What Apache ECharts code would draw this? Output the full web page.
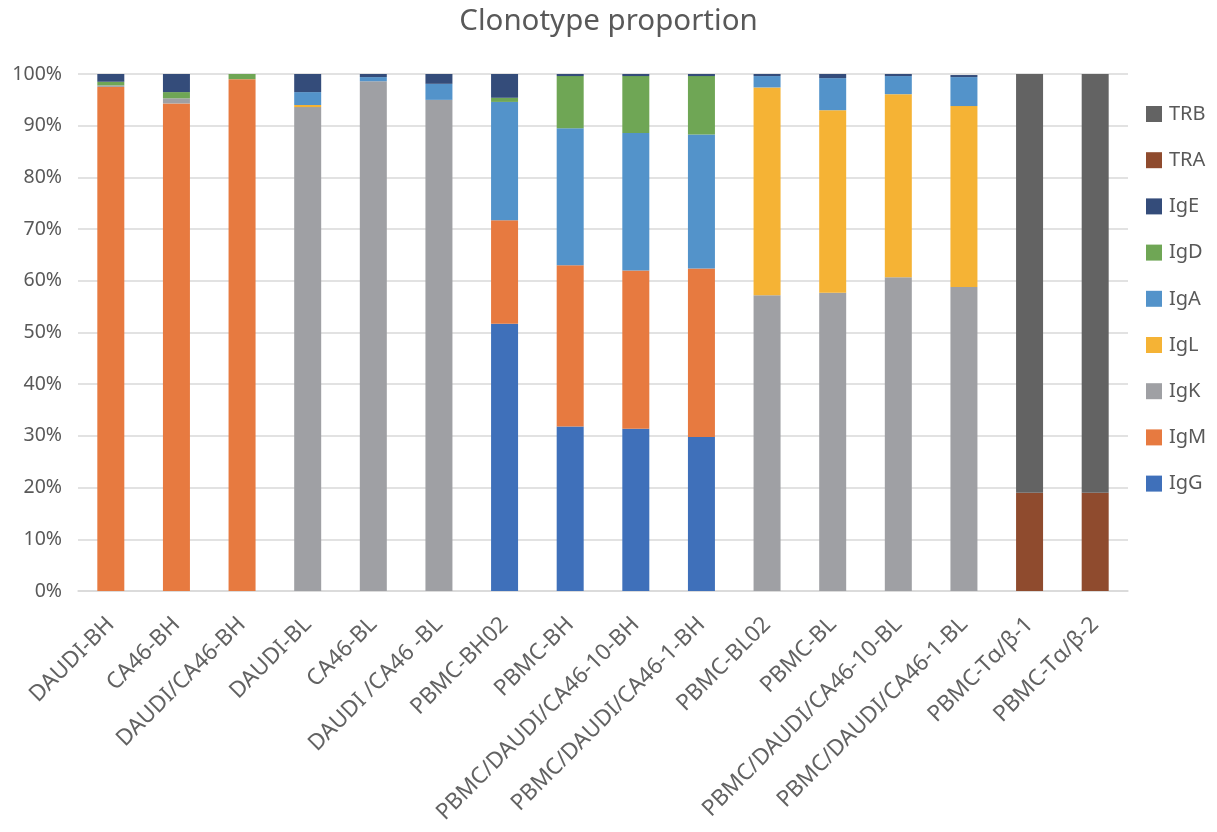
<!DOCTYPE html>
<html>
<head>
<meta charset="utf-8">
<script src="https://cdn.jsdelivr.net/npm/echarts@6/dist/echarts.min.js"></script>
<style>html,body{margin:0;padding:0;background:#fff;}#c{width:1217px;height:832px;}</style>
</head>
<body>
<div id="c"></div>
<script>
var categories = ["DAUDI-BH","CA46-BH","DAUDI/CA46-BH","DAUDI-BL","CA46-BL","DAUDI /CA46 -BL","PBMC-BH02","PBMC-BH","PBMC/DAUDI/CA46-10-BH","PBMC/DAUDI/CA46-1-BH","PBMC-BL02","PBMC-BL","PBMC/DAUDI/CA46-10-BL","PBMC/DAUDI/CA46-1-BL","PBMC-Tα/β-1","PBMC-Tα/β-2"];
var IgG = [0,0,0,0,0,0,51.7,31.8,31.4,29.8,0,0,0,0,0,0];
var IgM = [97.5,94.3,99.0,0,0,0,20.0,31.2,30.6,32.6,0,0,0,0,0,0];
var IgK = [0.3,1.0,0,93.6,98.6,95.0,0,0,0,0,57.2,57.7,60.7,58.8,0,0];
var IgL = [0,0,0,0.4,0,0,0,0,0,0,40.2,35.3,35.4,35.0,0,0];
var IgA = [0,0,0,2.5,0.8,3.1,22.9,26.5,26.6,25.9,2.2,6.2,3.5,5.6,0,0];
var IgD = [0.7,1.2,1.0,0,0,0,0.8,10.1,11.0,11.3,0,0,0,0,0,0];
var IgE = [1.5,3.5,0,3.5,0.6,1.9,4.6,0.4,0.4,0.4,0.4,0.8,0.5,0.4,0,0];
var TRA = [0,0,0,0,0,0,0,0,0,0,0,0,0,0,19.0,19.0];
var TRB = [0,0,0,0,0,0,0,0,0,0,0,0,0,0,81.0,81.0];
var yTicks = [0,10,20,30,40,50,60,70,80,90,100];

var seriesDefs = [
  ["IgG", IgG, "#3F70BA"],
  ["IgM", IgM, "#E77A40"],
  ["IgK", IgK, "#9FA0A4"],
  ["IgL", IgL, "#F5B335"],
  ["IgA", IgA, "#5393CA"],
  ["IgD", IgD, "#6FA655"],
  ["IgE", IgE, "#344C7A"],
  ["TRA", TRA, "#8F4B2E"],
  ["TRB", TRB, "#636363"]
];
var font = "'Noto Sans', 'Open Sans', sans-serif";
var series = seriesDefs.map(function(d){
  return {
    name: d[0], type: 'bar', stack: 'total', barWidth: 27,
    data: d[1].map(function(v){ return v === 0 ? null : v; }),
    itemStyle: {color: d[2]}
  };
});
var chart = echarts.init(document.getElementById('c'));
chart.setOption({
  animation: false,
  title: {
    text: 'Clonotype proportion', left: 'center', top: 2,
    textStyle: {fontFamily: font, fontSize: 29.5, fontWeight: 'normal', color: '#595959'}
  },
  legend: {
    orient: 'vertical', left: 1141, top: 99, itemGap: 26.2,
    itemWidth: 16, itemHeight: 16, icon: 'rect',
    data: seriesDefs.map(function(d){return d[0];}).reverse(),
    textStyle: {fontFamily: font, fontSize: 20, color: '#595959', padding: [0,0,0,2]}
  },
  grid: {left: 78, right: 89, top: 74, bottom: 241, containLabel: false},
  xAxis: {
    type: 'category', data: categories,
    axisLine: {lineStyle: {color: '#d9d9d9', width: 1.5}},
    axisTick: {show: false},
    axisLabel: {interval: 0, rotate: 45, fontFamily: font, fontSize: 22.5, color: '#626262', margin: 30}
  },
  yAxis: {
    type: 'value', min: 0, max: 100, interval: 10,
    axisLine: {show: false}, axisTick: {show: false},
    axisLabel: {fontFamily: font, fontSize: 19.5, color: '#595959', margin: 16,
      formatter: function(v){ return yTicks.indexOf(v) >= 0 ? v + '%' : ''; }},
    splitLine: {lineStyle: {color: '#d9d9d9', width: 1.5}}
  },
  series: series
});
</script>
</body>
</html>
